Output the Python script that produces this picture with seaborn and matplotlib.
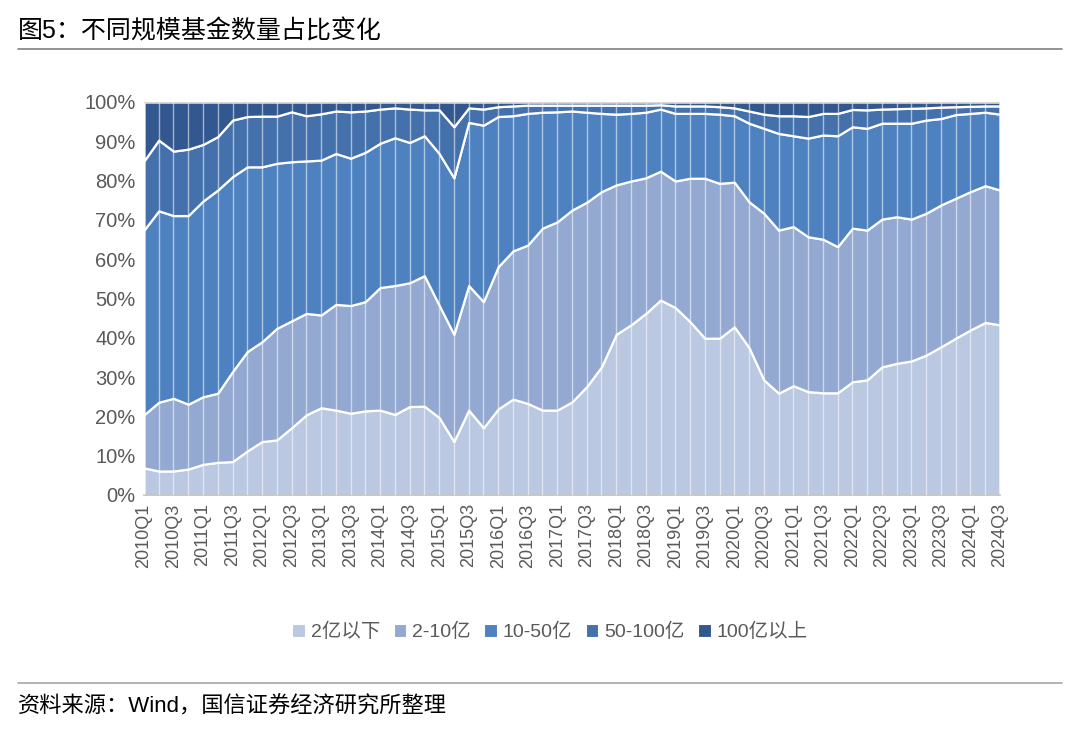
# ===============================================================
# IMPORTS
# ===============================================================
import pandas as pd
import matplotlib
matplotlib.use("Agg")
import matplotlib.pyplot as plt
from matplotlib.lines import Line2D
from matplotlib.patches import Patch
import seaborn as sns

# ===============================================================
# DATA  (share of funds by size, %)
# ===============================================================
quarters = [f"{y}Q{q}" for y in range(2010, 2025) for q in range(1, 5)][:59]

below_2 = [6.9, 6.1, 6.1, 6.6, 7.8, 8.3, 8.5, 11.2, 13.6, 14.0,
           17.1, 20.4, 22.2, 21.6, 20.8, 21.4, 21.6, 20.5, 22.5, 22.6,
           19.7, 13.6, 21.6, 17.1, 21.9, 24.4, 23.3, 21.6, 21.6, 23.7,
           27.6, 32.6, 40.9, 43.3, 46.2, 49.6, 47.7, 44.1, 39.9, 39.9,
           42.8, 37.5, 29.3, 25.9, 27.8, 26.3, 26.0, 26.0, 28.8, 29.3,
           32.6, 33.5, 34.1, 35.6, 37.7, 39.9, 42.0, 43.9, 43.3]
from_2_10 = [13.5, 17.5, 18.5, 16.5, 17.2, 17.6, 22.9, 25.3, 25.4, 28.4,
             27.2, 25.8, 23.6, 26.9, 27.4, 27.8, 31.2, 32.8, 31.5, 33.2,
             28.6, 27.3, 31.7, 32.1, 36.2, 37.7, 40.3, 46.3, 47.9, 48.8,
             46.9, 44.6, 38.0, 36.6, 34.5, 32.8, 32.2, 36.5, 40.7, 39.4,
             36.8, 37.1, 42.4, 41.5, 40.5, 39.4, 39.1, 37.2, 39.1, 38.1,
             37.6, 37.3, 36.1, 36.1, 36.1, 35.6, 35.2, 34.8, 34.3]
from_10_50 = [47.0, 48.7, 46.5, 48.0, 49.8, 51.7, 49.6, 47.0, 44.5, 42.0,
              40.5, 38.8, 39.4, 38.4, 37.5, 38.0, 36.7, 37.6, 35.7, 35.6,
              38.6, 39.8, 41.5, 44.9, 38.2, 34.4, 33.5, 29.5, 28.0, 25.2,
              22.9, 19.9, 18.0, 17.2, 16.7, 15.8, 17.2, 16.5, 16.5, 17.6,
              16.9, 20.0, 21.6, 24.6, 23.1, 25.1, 26.5, 28.2, 25.8, 25.9,
              24.4, 23.8, 24.4, 23.7, 22.0, 21.3, 19.9, 18.7, 19.3]
from_50_100 = [17.6, 18.0, 16.4, 16.9, 14.4, 13.6, 14.4, 12.8, 12.9, 12.0,
               12.7, 11.5, 11.8, 10.8, 11.8, 10.5, 8.7, 7.6, 8.5, 6.6,
               11.1, 13.0, 3.7, 4.1, 2.5, 2.5, 2.1, 1.8, 1.7, 1.5,
               1.8, 2.1, 2.3, 2.1, 1.8, 1.1, 1.9, 1.9, 1.9, 1.9,
               2.0, 3.1, 3.6, 4.5, 5.1, 5.5, 5.5, 5.7, 4.4, 4.7,
               3.6, 3.7, 3.8, 3.1, 2.9, 2.0, 1.8, 1.6, 2.1]
above_100 = [15.0, 9.7, 12.5, 12.0, 10.8, 8.8, 4.6, 3.7, 3.6, 3.6,
             2.5, 3.5, 3.0, 2.3, 2.5, 2.3, 1.8, 1.5, 1.8, 2.0,
             2.0, 6.3, 1.5, 1.8, 1.2, 1.0, 0.8, 0.8, 0.8, 0.8,
             0.8, 0.8, 0.8, 0.8, 0.8, 0.7, 1.0, 1.0, 1.0, 1.2,
             1.5, 2.3, 3.1, 3.5, 3.5, 3.7, 2.9, 2.9, 1.9, 2.0,
             1.8, 1.7, 1.6, 1.5, 1.3, 1.2, 1.1, 1.0, 1.0]

groups = ["2亿以下", "2-10亿", "10-50亿", "50-100亿", "100亿以上"]
colors = ["#BAC8E1", "#93A9D1", "#4E81BF", "#4471AC", "#33588F"]

# ===============================================================
# BUILD DATAFRAME (long format)
# ===============================================================
series = [below_2, from_2_10, from_10_50, from_50_100, above_100]
rows = []
for g, vals in zip(groups, series):
    for i, v in enumerate(vals):
        rows.append({"idx": i, "quarter": quarters[i], "group": g, "share": v})
df = pd.DataFrame(rows)

# ===============================================================
# PLOT
# ===============================================================
sns.set_theme(style="white")
plt.rcParams["font.family"] = ["Liberation Sans", "Noto Sans CJK SC"]
plt.rcParams["axes.unicode_minus"] = False

fig = plt.figure(figsize=(10.8, 7.38), dpi=100)
ax = fig.add_axes([0.1333, 0.3293, 0.7926, 0.5325])

# seaborn stacks the first hue level on top -> reverse order
sns.histplot(
    data=df, x="idx", weights="share", hue="group",
    hue_order=groups[::-1], palette=dict(zip(groups, colors)),
    multiple="stack", element="poly", discrete=True,
    alpha=1, edgecolor="white", linewidth=1.6, legend=False, ax=ax,
)

# thin white drop lines at every quarter
ax.vlines(range(len(quarters)), 0, 100, color="white", lw=1.0, alpha=0.55, zorder=5)
ax.axhline(100, color="#D9D9D9", lw=1, zorder=6)

ax.set_xlim(0, len(quarters) - 1)
ax.set_ylim(0, 100)
ax.set_xlabel("")
ax.set_ylabel("")
ax.set_yticks(range(0, 101, 10))
ax.set_yticklabels([f"{v}%" for v in range(0, 101, 10)], fontsize=14.5, color="#595959")
ax.set_xticks(range(0, len(quarters), 2))
ax.set_xticklabels(quarters[::2], rotation=90, fontsize=13, color="#595959")
ax.tick_params(axis="both", length=0, pad=6)
for s in ["top", "right", "left"]:
    ax.spines[s].set_visible(False)
ax.spines["bottom"].set_color("#BFBFBF")
ax.spines["bottom"].set_linewidth(1.2)
ax.grid(False)

# legend
handles = [Patch(facecolor=c, edgecolor="white", linewidth=0.8) for c in colors]
fig.legend(handles, groups, loc="center", bbox_to_anchor=(550 / 1080, 1 - 632 / 738),
           ncol=5, frameon=False, fontsize=14, labelcolor="#595959",
           handlelength=0.65, handleheight=0.65, handletextpad=0.3, columnspacing=0.7)

# title, rules and source
fig.text(18 / 1080, 1 - 31 / 738, "图5：不同规模基金数量占比变化", fontsize=18,
         color="black", va="center", ha="left")
fig.add_artist(Line2D([18 / 1080, 1062 / 1080], [1 - 49 / 738] * 2, color="#808080", lw=1.2))
fig.add_artist(Line2D([18 / 1080, 1062 / 1080], [1 - 683 / 738] * 2, color="#A6A6A6", lw=1.2))
fig.text(18 / 1080, 1 - 707 / 738, "资料来源：Wind，国信证券经济研究所整理", fontsize=16,
         color="black", va="center", ha="left")

fig.savefig("out.png", dpi=100)
